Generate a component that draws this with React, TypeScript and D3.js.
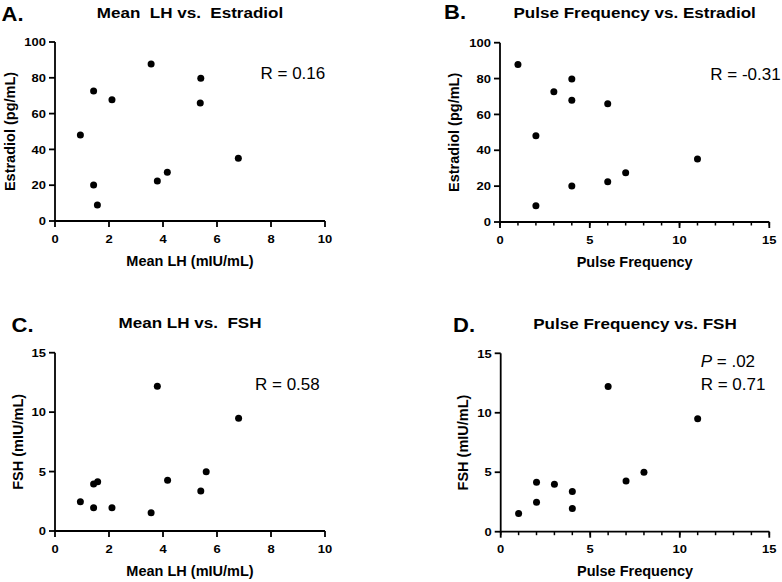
import React from "react";
import * as d3 from "d3";

// ---------- Data ----------
// Panel A: Mean LH vs. Estradiol
const meanLH_A = [0.94, 1.43, 1.43, 1.57, 2.11, 3.56, 3.79, 4.16, 5.4, 5.38, 6.79];
const estradiol_A = [48.1, 72.6, 20.1, 9.0, 67.7, 87.7, 22.4, 27.2, 79.7, 65.9, 35.1];
// Panel B: Pulse Frequency vs. Estradiol
const pulse_B = [1, 2, 2, 3, 4, 4, 4, 6, 6, 7, 11];
const estradiol_B = [87.9, 48.1, 9.0, 72.6, 79.7, 67.9, 20.1, 65.9, 22.4, 27.4, 35.1];
// Panel C: Mean LH vs. FSH
const meanLH_C = [0.94, 1.43, 1.43, 1.58, 2.11, 3.56, 3.79, 4.17, 5.4, 5.6, 6.8];
const fsh_C = [2.47, 1.96, 3.95, 4.15, 1.96, 1.54, 12.17, 4.26, 3.36, 4.99, 9.48];
// Panel D: Pulse Frequency vs. FSH
const pulse_D = [1, 2, 2, 3, 4, 4, 6, 7, 8, 11];
const fsh_D = [1.54, 4.15, 2.47, 3.98, 3.39, 1.96, 12.2, 4.26, 4.99, 9.5];

const lhTicks = [0, 2, 4, 6, 8, 10];
const pulseTicks = [0, 5, 10, 15];
const pulseMinor = d3.range(0, 16, 1);
const e2Ticks = [0, 20, 40, 60, 80, 100];
const fshTicks = [0, 5, 10, 15];

const FONT = "'Liberation Sans', Arial, Helvetica, sans-serif";
const BX = 1.1; // horizontal stretch of bold text

type PanelProps = {
  letter: string;
  title: string;
  xLabel: string;
  yLabel: string;
  xs: number[];
  ys: number[];
  xDomain: [number, number];
  yDomain: [number, number];
  xTicks: number[];
  xMinor?: number[];
  yTicks: number[];
  box: { left: number; right: number; top: number; bottom: number };
  letterPos: [number, number];
  titleY: number;
  yTitleX: number;
  notes: { text: React.ReactNode; x: number; y: number }[];
};

function BoldText({ x, y, size, anchor = "middle", children, rotate = false, sx = BX }: any) {
  const t = rotate
    ? `translate(${x},${y}) rotate(-90) scale(${sx},1)`
    : `translate(${x},${y}) scale(${sx},1)`;
  return (
    <text
      transform={t}
      fontFamily={FONT}
      fontWeight="bold"
      fontSize={size}
      textAnchor={anchor}
      fill="#000"
    >
      {children}
    </text>
  );
}

function Panel(p: PanelProps) {
  const x = d3.scaleLinear().domain(p.xDomain).range([p.box.left, p.box.right]);
  const y = d3.scaleLinear().domain(p.yDomain).range([p.box.bottom, p.box.top]);
  const cx = (p.box.left + p.box.right) / 2;
  const cy = (p.box.top + p.box.bottom) / 2;
  const sw = 1.8;
  return (
    <g>
      <BoldText x={p.letterPos[0]} y={p.letterPos[1]} size={20} anchor="start">
        {p.letter}
      </BoldText>
      <BoldText x={cx} y={p.titleY} size={15.5}>
        {p.title}
      </BoldText>
      {/* axes */}
      <line x1={x(p.xDomain[0])} x2={x(p.xDomain[1])} y1={y(p.yDomain[0])} y2={y(p.yDomain[0])} stroke="#000" strokeWidth={sw} />
      <line x1={x(p.xDomain[0])} x2={x(p.xDomain[0])} y1={y(p.yDomain[0]) + sw / 2} y2={y(p.yDomain[1])} stroke="#000" strokeWidth={sw} />
      {(p.xMinor || []).map((t) => (
        <line key={"m" + t} x1={x(t)} x2={x(t)} y1={y(p.yDomain[0])} y2={y(p.yDomain[0]) + 3.5} stroke="#000" strokeWidth={1.5} />
      ))}
      {p.xTicks.map((t) => (
        <g key={"x" + t}>
          <line x1={x(t)} x2={x(t)} y1={y(p.yDomain[0])} y2={y(p.yDomain[0]) + 6} stroke="#000" strokeWidth={sw} />
          <BoldText x={x(t)} y={y(p.yDomain[0]) + 21.5} size={11.8}>
            {t}
          </BoldText>
        </g>
      ))}
      {p.yTicks.map((t) => (
        <g key={"y" + t}>
          <line x1={x(p.xDomain[0]) - 6} x2={x(p.xDomain[0])} y1={y(t)} y2={y(t)} stroke="#000" strokeWidth={sw} />
          <BoldText x={x(p.xDomain[0]) - 9} y={y(t) + 4.2} size={11.8} anchor="end">
            {t}
          </BoldText>
        </g>
      ))}
      <BoldText x={cx} y={p.box.bottom + 44.5} size={14.5} sx={1}>
        {p.xLabel}
      </BoldText>
      <BoldText x={p.yTitleX + 5} y={cy} size={14.5} rotate sx={1}>
        {p.yLabel}
      </BoldText>
      {p.xs.map((v, i) => (
        <circle key={i} cx={x(v)} cy={y(p.ys[i])} r={3.5} fill="#000" />
      ))}
      {p.notes.map((n, i) => (
        <text key={i} x={n.x} y={n.y} fontFamily={FONT} fontSize={17} fill="#000">
          {n.text}
        </text>
      ))}
    </g>
  );
}

export default function App() {
  return (
    <svg
      width={782}
      height={582}
      style={{ position: "absolute", left: 0, top: 0, background: "#fff" }}
    >
      <rect width={782} height={582} fill="#fff" />
      <Panel
        letter="A."
        title={"Mean\u00a0 LH vs.\u00a0 Estradiol"}
        xLabel="Mean LH (mIU/mL)"
        yLabel="Estradiol (pg/mL)"
        xs={meanLH_A}
        ys={estradiol_A}
        xDomain={[0, 10]}
        yDomain={[0, 100]}
        xTicks={lhTicks}
        yTicks={e2Ticks}
        box={{ left: 55, right: 325, top: 42, bottom: 221 }}
        letterPos={[1.5, 21]}
        titleY={17.5}
        yTitleX={10}
        notes={[{ text: "R = 0.16", x: 260.5, y: 79 }]}
      />
      <Panel
        letter="B."
        title="Pulse Frequency vs. Estradiol"
        xLabel="Pulse Frequency"
        yLabel="Estradiol (pg/mL)"
        xs={pulse_B}
        ys={estradiol_B}
        xDomain={[0, 15]}
        yDomain={[0, 100]}
        xTicks={pulseTicks}
        xMinor={pulseMinor}
        yTicks={e2Ticks}
        box={{ left: 500, right: 769.3, top: 42.7, bottom: 222 }}
        letterPos={[444, 18.7]}
        titleY={18.3}
        yTitleX={454.3}
        notes={[{ text: "R = -0.31", x: 710.3, y: 79.7 }]}
      />
      <Panel
        letter="C."
        title={"Mean LH vs.\u00a0 FSH"}
        xLabel="Mean LH (mIU/mL)"
        yLabel="FSH (mIU/mL)"
        xs={meanLH_C}
        ys={fsh_C}
        xDomain={[0, 10]}
        yDomain={[0, 15]}
        xTicks={lhTicks}
        yTicks={fshTicks}
        box={{ left: 55, right: 325, top: 352.7, bottom: 531 }}
        letterPos={[11.5, 331.7]}
        titleY={328.3}
        yTitleX={17.5}
        notes={[{ text: "R = 0.58", x: 255, y: 390 }]}
      />
      <Panel
        letter="D."
        title="Pulse Frequency vs. FSH"
        xLabel="Pulse Frequency"
        yLabel="FSH (mIU/mL)"
        xs={pulse_D}
        ys={fsh_D}
        xDomain={[0, 15]}
        yDomain={[0, 15]}
        xTicks={pulseTicks}
        xMinor={pulseMinor}
        yTicks={fshTicks}
        box={{ left: 500.7, right: 769.3, top: 353.3, bottom: 531.7 }}
        letterPos={[453, 331.7]}
        titleY={329.3}
        yTitleX={462.7}
        notes={[
          {
            text: (
              <>
                <tspan fontStyle="italic">P</tspan> = .02
              </>
            ),
            x: 700.7,
            y: 366.7,
          },
          { text: "R = 0.71", x: 700.7, y: 390 },
        ]}
      />
    </svg>
  );
}
